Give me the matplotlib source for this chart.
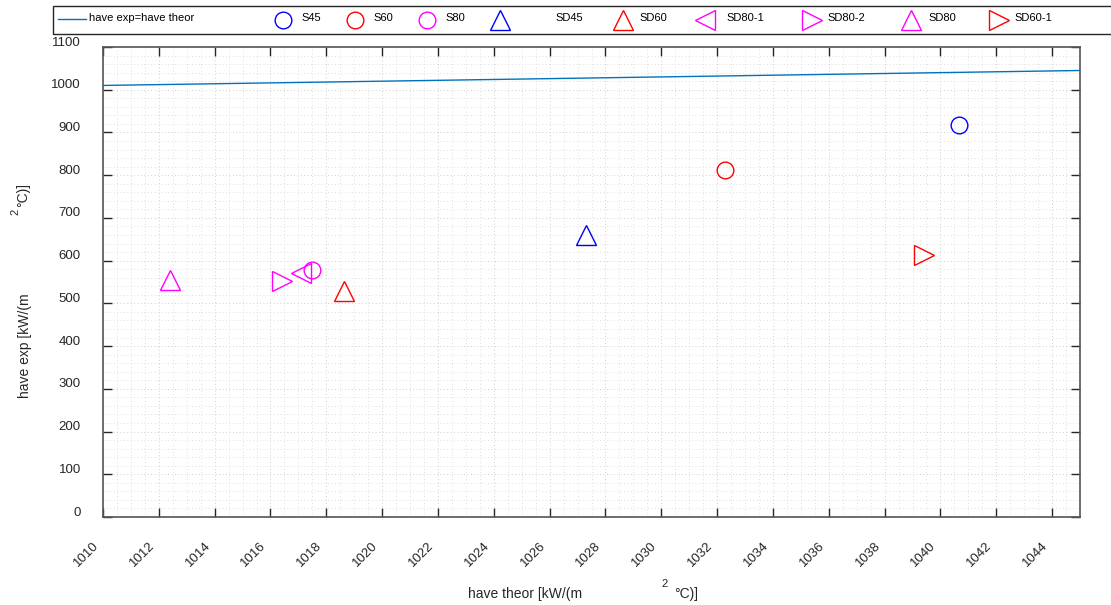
import matplotlib

matplotlib.use("Agg")
import matplotlib.pyplot as plt
import numpy as np
from matplotlib.lines import Line2D
from matplotlib.patches import Rectangle
from matplotlib.ticker import MultipleLocator
from matplotlib.transforms import ScaledTranslation

plt.rcParams["font.family"] = ["Liberation Sans", "DejaVu Sans"]

# data
labels = ["S45", "S60", "S80", "SD45", "SD60", "SD80-1", "SD80-2", "SD80", "SD60-1"]
have_theor = [1040.65, 1032.3, 1017.5, 1027.3, 1018.65, 1017.1, 1016.4, 1012.4, 1039.4]
have_exp = [918, 811, 577, 661, 528, 572, 552, 554, 614]
markers = ["o", "o", "o", "^", "^", "<", ">", "^", ">"]
colors = ["#0000ff", "#ff0000", "#ff00ff", "#0000ff", "#ff0000", "#ff00ff", "#ff00ff", "#ff00ff", "#ff0000"]
ref_x = [1010, 1046]
x_ticks = np.arange(1010, 1045, 2)
y_ticks = np.arange(0, 1101, 100)

W, H = 1111, 605
line_blue = "#0072bd"
dark = "#262626"

fig = plt.figure(figsize=(W / 100, H / 100), dpi=100)
ax = fig.add_axes([103 / W, 1 - 517 / H, 977 / W, 470 / H])


def fx(x):
    return x / W


def fy(y):
    return 1 - y / H


def msize(m):
    return 12 if m == "o" else 14


ax.plot(ref_x, ref_x, color=line_blue, lw=1.0, zorder=3)
for xv, yv, m, c in zip(have_theor, have_exp, markers, colors):
    ax.plot(xv, yv, linestyle="none", marker=m, ms=msize(m), mfc="none", mec=c, mew=1.0, zorder=4)

ax.set_xlim(1010, 1045)
ax.set_ylim(0, 1100)
ax.set_xticks(x_ticks)
ax.set_yticks(y_ticks)
ax.xaxis.set_minor_locator(MultipleLocator(0.5))
ax.yaxis.set_minor_locator(MultipleLocator(20))
ax.grid(True, which="minor", linestyle=(0, (1, 2.5)), color="#dedede", lw=0.7)
ax.grid(True, which="major", linestyle=(0, (1, 2.5)), color="#cfcfcf", lw=0.7)
ax.set_axisbelow(True)

ax.tick_params(which="major", direction="in", length=6.5, width=1, color=dark,
               top=True, right=True, labelsize=9.5, labelcolor=dark)
ax.tick_params(which="minor", length=0)
ax.tick_params(axis="y", pad=16)
ax.tick_params(axis="x", pad=16)
for spine in ax.spines.values():
    spine.set_color("#555555")
    spine.set_linewidth(1.2)

for lab in ax.get_yticklabels():
    lab.set_transform(lab.get_transform() + ScaledTranslation(0, 6 / 100, fig.dpi_scale_trans))
for lab in ax.get_xticklabels():
    lab.set_rotation(45)
    lab.set_ha("right")
    lab.set_va("top")
    lab.set_transform(lab.get_transform() + ScaledTranslation(-2 / 100, 0, fig.dpi_scale_trans))

# axis labels, with the detached superscript as in the source figure
fig.text(fx(525), fy(594), "have theor [kW/(m", ha="center", va="center", fontsize=10, color=dark)
fig.text(fx(665), fy(584), "2", ha="center", va="center", fontsize=8, color=dark)
fig.text(fx(686), fy(594), "°C)]", ha="center", va="center", fontsize=10, color=dark)
fig.text(fx(25), fy(346), "have exp [kW/(m", ha="center", va="center", rotation=90, fontsize=10, color=dark)
fig.text(fx(15), fy(212), "2", ha="center", va="center", rotation=90, fontsize=8, color=dark)
fig.text(fx(23), fy(195), "°C)]", ha="center", va="center", rotation=90, fontsize=10, color=dark)

# legend box laid out in a single row at the top
fig.patches.append(Rectangle((fx(53), fy(34)), fx(1070), 28 / H, transform=fig.transFigure,
                             facecolor="white", edgecolor=dark, lw=1.0))
fig.lines.append(Line2D([fx(58), fx(86)], [fy(19), fy(19)], transform=fig.transFigure,
                        color=line_blue, lw=1.0))
fig.text(fx(89), fy(18), "have exp=have theor", ha="left", va="center", fontsize=8, color="black")
mark_x = [283, 355, 427, 500, 623, 705, 812, 911, 999]
text_x = [301, 373, 445, 555, 639, 726, 827, 928, 1014]
for mx, tx, lab, m, c in zip(mark_x, text_x, labels, markers, colors):
    fig.lines.append(Line2D([fx(mx)], [fy(20)], transform=fig.transFigure, linestyle="none",
                            marker=m, ms=msize(m), mfc="none", mec=c, mew=1.0))
    fig.text(fx(tx), fy(18), lab, ha="left", va="center", fontsize=8, color="black")

fig.savefig("out.png", dpi=100, facecolor="white")
